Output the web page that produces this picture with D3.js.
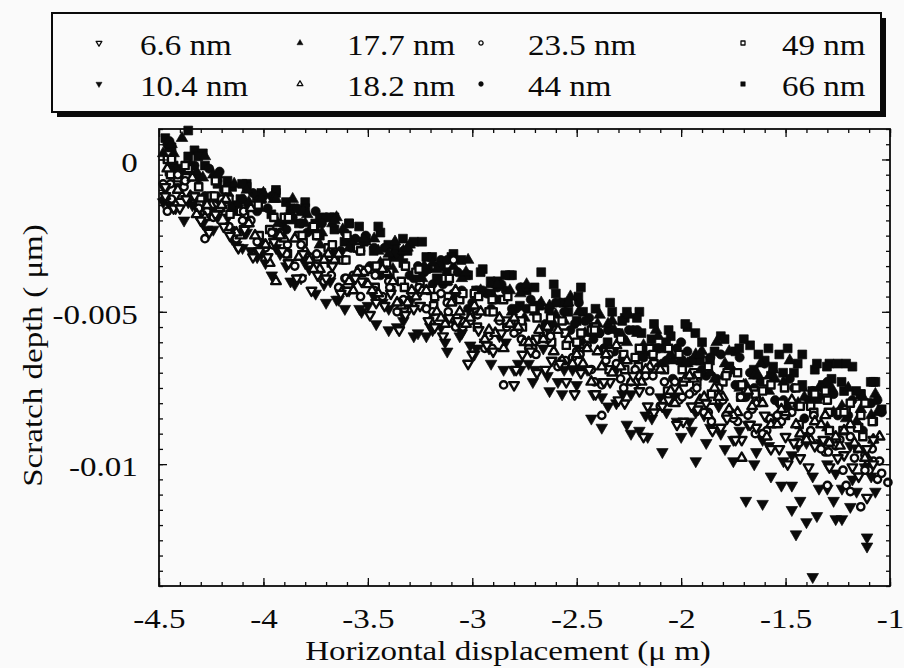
<!DOCTYPE html>
<html>
<head>
<meta charset="utf-8">
<script src="https://cdn.jsdelivr.net/npm/d3@7"></script>
<style>
  body { margin: 0; background: #fafafa; }
  svg { display: block; }
</style>
</head>
<body>
<svg id="chart" width="904" height="668"></svg>
<script>
// legend names, in legend order (column by column)
const seriesNames = ["6.6 nm", "10.4 nm", "17.7 nm", "18.2 nm", "23.5 nm", "44 nm", "49 nm", "66 nm"];
const xTicks = [-4.5, -4, -3.5, -3, -2.5, -2, -1.5, -1];
const yTicks = [0, -0.005, -0.01];

// [horizontal displacement (um), scratch depth (um)]
const d6_6 = [[-4.47,-0.0012],[-4.43,-0.0016],[-4.37,-0.0013],[-4.30,-0.0020],[-4.23,-0.0018],[-4.16,-0.0025],[-4.09,-0.0023],[-4.02,-0.0030],[-3.95,-0.0027],[-3.88,-0.0034],[-3.81,-0.0031],[-3.74,-0.0038],[-3.67,-0.0035],[-3.60,-0.0043],[-3.53,-0.0040],[-3.46,-0.0047],[-3.39,-0.0044],[-3.32,-0.0051],[-3.25,-0.0048],[-3.18,-0.0055],[-3.11,-0.0052],[-3.02,-0.0067],[-2.97,-0.0056],[-2.90,-0.0063],[-2.80,-0.0074],[-2.76,-0.0064],[-2.69,-0.0070],[-2.62,-0.0066],[-2.55,-0.0073],[-2.48,-0.0070],[-2.41,-0.0077],[-2.34,-0.0073],[-2.27,-0.0080],[-2.18,-0.0091],[-2.20,-0.0076],[-2.13,-0.0083],[-2.06,-0.0079],[-1.99,-0.0086],[-1.92,-0.0082],[-1.85,-0.0089],[-1.78,-0.0085],[-1.71,-0.0092],[-1.64,-0.0088],[-1.57,-0.0095],[-1.50,-0.0091],[-1.49,-0.0100],[-1.43,-0.0098],[-1.36,-0.0094],[-1.29,-0.0101],[-1.22,-0.0097],[-1.15,-0.0104],[-1.11,-0.0111],[-1.08,-0.0100],[-1.08,-0.0092],
  [-4.47,-0.0009],[-4.40,-0.0016],[-4.33,-0.0012],[-4.26,-0.0024],[-4.19,-0.0022],[-4.12,-0.0029],[-4.05,-0.0032],[-3.98,-0.0032],[-3.91,-0.0030],[-3.84,-0.0039],[-3.77,-0.0043],[-3.70,-0.0039],[-3.63,-0.0044],[-3.56,-0.0039],[-3.49,-0.0051],[-3.42,-0.0048],[-3.35,-0.0056],[-3.28,-0.0049],[-3.21,-0.0053],[-3.14,-0.0058],[-3.07,-0.0053],[-3.00,-0.0064],[-2.93,-0.0061],[-2.86,-0.0057],[-2.79,-0.0069],[-2.72,-0.0063],[-2.65,-0.0069],[-2.58,-0.0067],[-2.51,-0.0077],[-2.44,-0.0069],[-2.37,-0.0073],[-2.30,-0.0079],[-2.23,-0.0071],[-2.16,-0.0081],[-2.09,-0.0081],[-2.02,-0.0087],[-1.95,-0.0081],[-1.88,-0.0080],[-1.81,-0.0088],[-1.74,-0.0092],[-1.67,-0.0087],[-1.60,-0.0084],[-1.53,-0.0095],[-1.46,-0.0093],[-1.39,-0.0101],[-1.32,-0.0092],[-1.25,-0.0098],[-1.18,-0.0101],[-1.11,-0.0095]];
const d10_4 = [[-4.47,-0.0010],[-4.42,-0.0016],[-4.36,-0.0014],[-4.29,-0.0021],[-4.22,-0.0019],[-4.15,-0.0026],[-4.08,-0.0024],[-4.01,-0.0031],[-3.94,-0.0029],[-3.87,-0.0040],[-3.80,-0.0034],[-3.70,-0.0047],[-3.65,-0.0046],[-3.59,-0.0043],[-3.53,-0.0050],[-3.46,-0.0054],[-3.40,-0.0049],[-3.33,-0.0053],[-3.28,-0.0058],[-3.20,-0.0055],[-3.13,-0.0060],[-3.06,-0.0058],[-2.99,-0.0064],[-2.92,-0.0062],[-2.85,-0.0069],[-2.78,-0.0067],[-2.71,-0.0073],[-2.64,-0.0071],[-2.57,-0.0077],[-2.50,-0.0074],[-2.43,-0.0085],[-2.38,-0.0088],[-2.31,-0.0080],[-2.26,-0.0087],[-2.24,-0.0090],[-2.20,-0.0089],[-2.16,-0.0091],[-2.09,-0.0096],[-2.02,-0.0086],[-1.95,-0.0089],[-1.93,-0.0099],[-1.88,-0.0093],[-1.81,-0.0090],[-1.75,-0.0099],[-1.69,-0.0112],[-1.64,-0.0096],[-1.61,-0.0113],[-1.57,-0.0104],[-1.52,-0.0107],[-1.47,-0.0107],[-1.47,-0.0115],[-1.45,-0.0123],[-1.43,-0.0112],[-1.40,-0.0119],[-1.37,-0.0137],[-1.35,-0.0117],[-1.34,-0.0108],[-1.30,-0.0108],[-1.27,-0.0112],[-1.26,-0.0118],[-1.23,-0.0118],[-1.19,-0.0114],[-1.18,-0.0105],[-1.11,-0.0124],[-1.11,-0.0127],[-1.07,-0.0109],
  [-4.45,-0.0015],[-4.38,-0.0020],[-4.31,-0.0017],[-4.24,-0.0023],[-4.17,-0.0019],[-4.10,-0.0029],[-4.03,-0.0032],[-3.96,-0.0038],[-3.89,-0.0035],[-3.82,-0.0039],[-3.75,-0.0044],[-3.68,-0.0040],[-3.61,-0.0049],[-3.54,-0.0049],[-3.47,-0.0045],[-3.40,-0.0056],[-3.33,-0.0051],[-3.26,-0.0057],[-3.19,-0.0056],[-3.12,-0.0063],[-3.05,-0.0057],[-2.98,-0.0062],[-2.91,-0.0067],[-2.84,-0.0060],[-2.77,-0.0069],[-2.70,-0.0069],[-2.63,-0.0076],[-2.56,-0.0069],[-2.49,-0.0069],[-2.42,-0.0077],[-2.35,-0.0081],[-2.28,-0.0077],[-2.21,-0.0073],[-2.14,-0.0085],[-2.07,-0.0083],[-2.00,-0.0091],[-1.93,-0.0083],[-1.86,-0.0088],[-1.79,-0.0095],[-1.72,-0.0089],[-1.65,-0.0100],[-1.58,-0.0094],[-1.51,-0.0099],[-1.44,-0.0094],[-1.37,-0.0104],[-1.30,-0.0100],[-1.23,-0.0108],[-1.16,-0.0109],[-1.09,-0.0104],
  [-4.48,-0.0014],[-4.41,-0.0009],[-4.34,-0.0015],[-4.27,-0.0023],[-4.20,-0.0016],[-4.13,-0.0028],[-4.06,-0.0030],[-3.99,-0.0034],[-3.92,-0.0031],[-3.85,-0.0041],[-3.78,-0.0036],[-3.71,-0.0041],[-3.64,-0.0046],[-3.57,-0.0040],[-3.50,-0.0048],[-3.43,-0.0047],[-3.36,-0.0055],[-3.29,-0.0046],[-3.22,-0.0058],[-3.15,-0.0055],[-3.08,-0.0054],[-3.01,-0.0061],[-2.94,-0.0060],[-2.87,-0.0058],[-2.80,-0.0069],[-2.73,-0.0067],[-2.66,-0.0062],[-2.59,-0.0073],[-2.52,-0.0069],[-2.45,-0.0069],[-2.38,-0.0078],[-2.31,-0.0069],[-2.24,-0.0077],[-2.17,-0.0084],[-2.10,-0.0078],[-2.03,-0.0078],[-1.96,-0.0086],[-1.89,-0.0084],[-1.82,-0.0081],[-1.75,-0.0092],[-1.68,-0.0087],[-1.61,-0.0092],[-1.54,-0.0085],[-1.47,-0.0097],[-1.40,-0.0093],[-1.33,-0.0093],[-1.26,-0.0103],[-1.19,-0.0094],[-1.12,-0.0101]];
const d17_7 = [[-4.48,0.0002],[-4.44,0.0005],[-4.39,0.0007],[-4.32,-0.0004],[-4.24,-0.0005],[-4.17,-0.0011],[-4.08,-0.0010],[-4.02,-0.0016],[-3.95,-0.0013],[-3.88,-0.0020],[-3.81,-0.0017],[-3.74,-0.0024],[-3.67,-0.0021],[-3.62,-0.0023],[-3.54,-0.0029],[-3.47,-0.0026],[-3.40,-0.0031],[-3.33,-0.0030],[-3.26,-0.0036],[-3.19,-0.0034],[-3.12,-0.0040],[-3.05,-0.0039],[-2.98,-0.0044],[-2.91,-0.0041],[-2.84,-0.0045],[-2.77,-0.0044],[-2.70,-0.0050],[-2.63,-0.0048],[-2.56,-0.0053],[-2.49,-0.0050],[-2.42,-0.0057],[-2.35,-0.0054],[-2.28,-0.0058],[-2.21,-0.0057],[-2.14,-0.0063],[-2.07,-0.0061],[-2.00,-0.0066],[-1.93,-0.0064],[-1.86,-0.0070],[-1.79,-0.0067],[-1.72,-0.0075],[-1.65,-0.0071],[-1.58,-0.0076],[-1.51,-0.0073],[-1.44,-0.0080],[-1.37,-0.0078],[-1.30,-0.0088],[-1.23,-0.0081],[-1.16,-0.0086],[-1.09,-0.0084],
  [-4.42,-0.0003],[-4.35,-0.0002],[-4.28,0.0001],[-4.21,-0.0013],[-4.14,-0.0008],[-4.07,-0.0014],[-4.00,-0.0011],[-3.93,-0.0021],[-3.86,-0.0013],[-3.79,-0.0018],[-3.72,-0.0024],[-3.65,-0.0019],[-3.58,-0.0027],[-3.51,-0.0027],[-3.44,-0.0034],[-3.37,-0.0027],[-3.30,-0.0028],[-3.23,-0.0035],[-3.16,-0.0040],[-3.09,-0.0035],[-3.02,-0.0033],[-2.95,-0.0044],[-2.88,-0.0041],[-2.81,-0.0050],[-2.74,-0.0041],[-2.67,-0.0047],[-2.60,-0.0051],[-2.53,-0.0045],[-2.46,-0.0057],[-2.39,-0.0051],[-2.32,-0.0056],[-2.25,-0.0051],[-2.18,-0.0061],[-2.11,-0.0058],[-2.04,-0.0066],[-1.97,-0.0067],[-1.90,-0.0063],[-1.83,-0.0060],[-1.76,-0.0069],[-1.69,-0.0074],[-1.62,-0.0067],[-1.55,-0.0072],[-1.48,-0.0066],[-1.41,-0.0078],[-1.34,-0.0075],[-1.27,-0.0083],[-1.20,-0.0075],[-1.13,-0.0078],[-1.06,-0.0083],
  [-4.43,0.0002],[-4.36,-0.0006],[-4.29,-0.0006],[-4.22,-0.0005],[-4.15,-0.0016],[-4.08,-0.0021],[-4.01,-0.0013],[-3.94,-0.0013],[-3.87,-0.0020],[-3.80,-0.0021],[-3.73,-0.0028],[-3.66,-0.0020],[-3.59,-0.0029],[-3.52,-0.0026],[-3.45,-0.0030],[-3.38,-0.0036],[-3.31,-0.0029],[-3.24,-0.0039],[-3.17,-0.0036],[-3.10,-0.0045],[-3.03,-0.0037],[-2.96,-0.0043],[-2.89,-0.0046],[-2.82,-0.0043],[-2.75,-0.0052],[-2.68,-0.0048],[-2.61,-0.0054],[-2.54,-0.0047],[-2.47,-0.0060],[-2.40,-0.0054],[-2.33,-0.0053],[-2.26,-0.0060],[-2.19,-0.0065],[-2.12,-0.0056],[-2.05,-0.0064],[-1.98,-0.0067],[-1.91,-0.0064],[-1.84,-0.0072],[-1.77,-0.0063],[-1.70,-0.0074],[-1.63,-0.0071],[-1.56,-0.0069],[-1.49,-0.0081],[-1.42,-0.0075],[-1.35,-0.0079],[-1.28,-0.0075],[-1.21,-0.0085],[-1.14,-0.0082],[-1.07,-0.0077]];
const d18_2 = [[-4.47,-0.0012],[-4.42,-0.0015],[-4.35,-0.0012],[-4.28,-0.0019],[-4.21,-0.0016],[-4.14,-0.0024],[-4.07,-0.0021],[-4.00,-0.0028],[-3.94,-0.0040],[-3.93,-0.0025],[-3.80,-0.0030],[-3.73,-0.0036],[-3.66,-0.0033],[-3.59,-0.0040],[-3.52,-0.0037],[-3.45,-0.0044],[-3.38,-0.0040],[-3.31,-0.0047],[-3.24,-0.0043],[-3.17,-0.0050],[-3.10,-0.0047],[-3.03,-0.0054],[-2.96,-0.0050],[-2.89,-0.0057],[-2.82,-0.0054],[-2.75,-0.0060],[-2.68,-0.0056],[-2.61,-0.0063],[-2.54,-0.0059],[-2.47,-0.0067],[-2.40,-0.0063],[-2.33,-0.0070],[-2.26,-0.0066],[-2.19,-0.0073],[-2.12,-0.0069],[-2.05,-0.0076],[-1.98,-0.0072],[-1.91,-0.0079],[-1.84,-0.0075],[-1.77,-0.0082],[-1.71,-0.0098],[-1.64,-0.0080],[-1.57,-0.0087],[-1.50,-0.0083],[-1.43,-0.0090],[-1.36,-0.0086],[-1.29,-0.0093],[-1.22,-0.0089],[-1.15,-0.0095],[-1.08,-0.0092],
  [-4.46,-0.0003],[-4.39,-0.0012],[-4.32,-0.0018],[-4.25,-0.0015],[-4.18,-0.0013],[-4.11,-0.0025],[-4.04,-0.0025],[-3.97,-0.0034],[-3.90,-0.0026],[-3.83,-0.0032],[-3.76,-0.0036],[-3.69,-0.0031],[-3.62,-0.0043],[-3.55,-0.0037],[-3.48,-0.0043],[-3.41,-0.0037],[-3.34,-0.0048],[-3.27,-0.0045],[-3.20,-0.0053],[-3.13,-0.0054],[-3.06,-0.0050],[-2.99,-0.0048],[-2.92,-0.0056],[-2.85,-0.0062],[-2.78,-0.0055],[-2.71,-0.0060],[-2.64,-0.0055],[-2.57,-0.0066],[-2.50,-0.0064],[-2.43,-0.0073],[-2.36,-0.0064],[-2.29,-0.0068],[-2.22,-0.0073],[-2.15,-0.0068],[-2.08,-0.0079],[-2.01,-0.0076],[-1.94,-0.0072],[-1.87,-0.0084],[-1.80,-0.0078],[-1.73,-0.0083],[-1.66,-0.0081],[-1.59,-0.0091],[-1.52,-0.0082],[-1.45,-0.0087],[-1.38,-0.0092],[-1.31,-0.0084],[-1.24,-0.0094],[-1.17,-0.0093],[-1.10,-0.0099],
  [-4.41,-0.0010],[-4.34,-0.0006],[-4.27,-0.0015],[-4.20,-0.0015],[-4.13,-0.0024],[-4.06,-0.0016],[-3.99,-0.0028],[-3.92,-0.0025],[-3.85,-0.0026],[-3.78,-0.0033],[-3.71,-0.0033],[-3.64,-0.0031],[-3.57,-0.0043],[-3.50,-0.0041],[-3.43,-0.0036],[-3.36,-0.0047],[-3.29,-0.0043],[-3.22,-0.0043],[-3.15,-0.0052],[-3.08,-0.0043],[-3.01,-0.0052],[-2.94,-0.0059],[-2.87,-0.0052],[-2.80,-0.0052],[-2.73,-0.0060],[-2.66,-0.0059],[-2.59,-0.0056],[-2.52,-0.0067],[-2.45,-0.0062],[-2.38,-0.0068],[-2.31,-0.0061],[-2.24,-0.0073],[-2.17,-0.0069],[-2.10,-0.0069],[-2.03,-0.0080],[-1.96,-0.0071],[-1.89,-0.0078],[-1.82,-0.0078],[-1.75,-0.0084],[-1.68,-0.0076],[-1.61,-0.0080],[-1.54,-0.0087],[-1.47,-0.0079],[-1.40,-0.0092],[-1.33,-0.0087],[-1.26,-0.0091],[-1.19,-0.0087],[-1.12,-0.0098],[-1.05,-0.0091]];
const d23_5 = [[-4.48,-0.0008],[-4.46,-0.0017],[-4.44,-0.0013],[-4.38,-0.0009],[-4.31,-0.0016],[-4.28,-0.0026],[-4.24,-0.0019],[-4.17,-0.0022],[-4.10,-0.0020],[-4.03,-0.0027],[-3.96,-0.0024],[-3.89,-0.0031],[-3.82,-0.0028],[-3.75,-0.0035],[-3.68,-0.0032],[-3.61,-0.0039],[-3.54,-0.0036],[-3.47,-0.0043],[-3.40,-0.0040],[-3.33,-0.0046],[-3.26,-0.0044],[-3.19,-0.0050],[-3.12,-0.0047],[-3.09,-0.0033],[-3.05,-0.0053],[-2.98,-0.0050],[-2.92,-0.0058],[-2.85,-0.0074],[-2.78,-0.0056],[-2.71,-0.0062],[-2.64,-0.0059],[-2.57,-0.0066],[-2.50,-0.0063],[-2.43,-0.0069],[-2.38,-0.0084],[-2.36,-0.0066],[-2.29,-0.0072],[-2.22,-0.0069],[-2.15,-0.0076],[-2.08,-0.0073],[-2.01,-0.0079],[-1.94,-0.0076],[-1.87,-0.0083],[-1.80,-0.0079],[-1.73,-0.0086],[-1.66,-0.0082],[-1.59,-0.0089],[-1.52,-0.0086],[-1.45,-0.0093],[-1.38,-0.0089],[-1.31,-0.0096],[-1.30,-0.0107],[-1.29,-0.0093],[-1.24,-0.0092],[-1.21,-0.0107],[-1.19,-0.0109],[-1.17,-0.0098],[-1.14,-0.0114],[-1.12,-0.0097],[-1.10,-0.0102],[-1.08,-0.0099],[-1.06,-0.0105],[-1.04,-0.0103],[-1.01,-0.0106],
  [-4.41,-0.0005],[-4.34,-0.0012],[-4.27,-0.0017],[-4.20,-0.0013],[-4.13,-0.0026],[-4.06,-0.0020],[-3.99,-0.0029],[-3.92,-0.0024],[-3.85,-0.0035],[-3.78,-0.0032],[-3.71,-0.0040],[-3.64,-0.0042],[-3.57,-0.0038],[-3.50,-0.0036],[-3.43,-0.0045],[-3.36,-0.0050],[-3.29,-0.0044],[-3.22,-0.0049],[-3.15,-0.0044],[-3.08,-0.0055],[-3.01,-0.0053],[-2.94,-0.0062],[-2.87,-0.0053],[-2.80,-0.0057],[-2.73,-0.0062],[-2.66,-0.0057],[-2.59,-0.0068],[-2.52,-0.0065],[-2.45,-0.0061],[-2.38,-0.0074],[-2.31,-0.0067],[-2.24,-0.0073],[-2.17,-0.0071],[-2.10,-0.0081],[-2.03,-0.0073],[-1.96,-0.0077],[-1.89,-0.0083],[-1.82,-0.0075],[-1.75,-0.0085],[-1.68,-0.0084],[-1.61,-0.0090],[-1.54,-0.0084],[-1.47,-0.0083],[-1.40,-0.0091],[-1.33,-0.0095],[-1.26,-0.0094],[-1.19,-0.0091],[-1.12,-0.0102],[-1.05,-0.0099],
  [-4.445,-0.0008],[-4.375,-0.0007],[-4.305,-0.0019],[-4.235,-0.0015],[-4.165,-0.0022],[-4.095,-0.0017],[-4.025,-0.0030],[-3.955,-0.0028],[-3.885,-0.0028],[-3.815,-0.0039],[-3.745,-0.0031],[-3.675,-0.0038],[-3.605,-0.0039],[-3.535,-0.0045],[-3.465,-0.0038],[-3.395,-0.0042],[-3.325,-0.0049],[-3.255,-0.0042],[-3.185,-0.0055],[-3.115,-0.0050],[-3.045,-0.0055],[-2.975,-0.0051],[-2.905,-0.0062],[-2.835,-0.0055],[-2.765,-0.0059],[-2.695,-0.0064],[-2.625,-0.0058],[-2.555,-0.0066],[-2.485,-0.0064],[-2.415,-0.0073],[-2.345,-0.0064],[-2.275,-0.0075],[-2.205,-0.0071],[-2.135,-0.0071],[-2.065,-0.0078],[-1.995,-0.0078],[-1.925,-0.0075],[-1.855,-0.0086],[-1.785,-0.0084],[-1.715,-0.0078],[-1.645,-0.0090],[-1.575,-0.0085],[-1.505,-0.0084],[-1.435,-0.0093],[-1.365,-0.0084],[-1.295,-0.0096],[-1.225,-0.0102],[-1.155,-0.0095],[-1.085,-0.0095]];
const d44 = [[-4.46,0.0005],[-4.40,-0.0004],[-4.33,-0.0002],[-4.26,-0.0003],[-4.19,-0.0010],[-4.12,-0.0015],[-4.05,-0.0011],[-3.98,-0.0016],[-3.91,-0.0021],[-3.84,-0.0016],[-3.77,-0.0023],[-3.70,-0.0019],[-3.63,-0.0030],[-3.56,-0.0026],[-3.49,-0.0035],[-3.42,-0.0029],[-3.35,-0.0032],[-3.28,-0.0039],[-3.21,-0.0036],[-3.15,-0.0033],[-3.14,-0.0041],[-3.07,-0.0037],[-3.00,-0.0047],[-2.93,-0.0044],[-2.86,-0.0041],[-2.79,-0.0049],[-2.72,-0.0046],[-2.65,-0.0054],[-2.58,-0.0047],[-2.51,-0.0054],[-2.44,-0.0052],[-2.37,-0.0062],[-2.30,-0.0057],[-2.23,-0.0056],[-2.16,-0.0063],[-2.09,-0.0067],[-2.02,-0.0062],[-1.95,-0.0066],[-1.88,-0.0071],[-1.81,-0.0064],[-1.74,-0.0074],[-1.67,-0.0070],[-1.60,-0.0067],[-1.53,-0.0080],[-1.46,-0.0075],[-1.39,-0.0079],[-1.32,-0.0075],[-1.25,-0.0084],[-1.18,-0.0079],[-1.04,-0.0083],
  [-4.45,0.0006],[-4.38,-0.0007],[-4.31,-0.0006],[-4.24,-0.0016],[-4.17,-0.0009],[-4.10,-0.0013],[-4.03,-0.0017],[-3.96,-0.0012],[-3.89,-0.0023],[-3.82,-0.0021],[-3.75,-0.0017],[-3.68,-0.0030],[-3.61,-0.0024],[-3.54,-0.0030],[-3.47,-0.0029],[-3.40,-0.0038],[-3.33,-0.0030],[-3.26,-0.0035],[-3.19,-0.0041],[-3.12,-0.0033],[-3.05,-0.0043],[-2.98,-0.0043],[-2.91,-0.0049],[-2.84,-0.0043],[-2.77,-0.0042],[-2.70,-0.0050],[-2.63,-0.0055],[-2.56,-0.0050],[-2.49,-0.0047],[-2.42,-0.0059],[-2.35,-0.0056],[-2.28,-0.0065],[-2.21,-0.0056],[-2.14,-0.0062],[-2.07,-0.0066],[-2.00,-0.0060],[-1.93,-0.0072],[-1.86,-0.0065],[-1.79,-0.0071],[-1.72,-0.0065],[-1.65,-0.0075],[-1.58,-0.0072],[-1.51,-0.0079],[-1.44,-0.0081],[-1.37,-0.0076],[-1.30,-0.0073],[-1.23,-0.0082],[-1.16,-0.0087],[-1.09,-0.0080],
  [-4.42,-0.0004],[-4.35,-0.0002],[-4.28,-0.0012],[-4.21,-0.0004],[-4.14,-0.0017],[-4.07,-0.0015],[-4.00,-0.0012],[-3.93,-0.0025],[-3.86,-0.0019],[-3.79,-0.0024],[-3.72,-0.0021],[-3.65,-0.0031],[-3.58,-0.0029],[-3.51,-0.0025],[-3.44,-0.0038],[-3.37,-0.0031],[-3.30,-0.0038],[-3.23,-0.0037],[-3.16,-0.0035],[-3.09,-0.0044],[-3.02,-0.0049],[-2.95,-0.0043],[-2.88,-0.0042],[-2.81,-0.0049],[-2.74,-0.0049],[-2.67,-0.0056],[-2.60,-0.0047],[-2.53,-0.0056],[-2.46,-0.0053],[-2.39,-0.0057],[-2.32,-0.0063],[-2.25,-0.0056],[-2.18,-0.0065],[-2.11,-0.0062],[-2.04,-0.0072],[-1.97,-0.0063],[-1.90,-0.0069],[-1.83,-0.0072],[-1.76,-0.0069],[-1.69,-0.0078],[-1.62,-0.0073],[-1.55,-0.0079],[-1.48,-0.0072],[-1.41,-0.0085],[-1.34,-0.0078],[-1.27,-0.0077],[-1.20,-0.0084],[-1.13,-0.0089],[-1.06,-0.0079]];
const d49 = [[-4.46,0.0000],[-4.45,-0.0004],[-4.41,-0.0006],[-4.36,-0.0003],[-4.31,-0.0009],[-4.25,-0.0012],[-4.18,-0.0010],[-4.11,-0.0017],[-4.04,-0.0015],[-3.97,-0.0023],[-3.90,-0.0019],[-3.83,-0.0025],[-3.76,-0.0022],[-3.69,-0.0029],[-3.62,-0.0033],[-3.55,-0.0029],[-3.48,-0.0036],[-3.41,-0.0034],[-3.34,-0.0040],[-3.27,-0.0037],[-3.20,-0.0043],[-3.13,-0.0039],[-3.06,-0.0046],[-2.99,-0.0044],[-2.92,-0.0050],[-2.85,-0.0046],[-2.78,-0.0053],[-2.71,-0.0049],[-2.64,-0.0055],[-2.57,-0.0053],[-2.50,-0.0060],[-2.43,-0.0056],[-2.36,-0.0063],[-2.29,-0.0059],[-2.22,-0.0065],[-2.15,-0.0062],[-2.08,-0.0069],[-2.01,-0.0064],[-1.94,-0.0070],[-1.87,-0.0068],[-1.80,-0.0073],[-1.73,-0.0070],[-1.69,-0.0076],[-1.65,-0.0076],[-1.61,-0.0076],[-1.59,-0.0073],[-1.52,-0.0080],[-1.45,-0.0075],[-1.38,-0.0081],[-1.31,-0.0076],[-1.30,-0.0079],[-1.24,-0.0083],[-1.21,-0.0082],[-1.19,-0.0080],[-1.14,-0.0084],[-1.13,-0.0091],[-1.12,-0.0080],
  [-4.44,0.0000],[-4.37,-0.0006],[-4.30,-0.0013],[-4.23,-0.0007],[-4.16,-0.0018],[-4.09,-0.0018],[-4.02,-0.0025],[-3.95,-0.0019],[-3.88,-0.0019],[-3.81,-0.0027],[-3.74,-0.0032],[-3.67,-0.0028],[-3.60,-0.0025],[-3.53,-0.0037],[-3.46,-0.0035],[-3.39,-0.0043],[-3.32,-0.0035],[-3.25,-0.0041],[-3.18,-0.0045],[-3.11,-0.0039],[-3.04,-0.0051],[-2.97,-0.0045],[-2.90,-0.0050],[-2.83,-0.0045],[-2.76,-0.0055],[-2.69,-0.0052],[-2.62,-0.0060],[-2.55,-0.0061],[-2.48,-0.0057],[-2.41,-0.0055],[-2.34,-0.0063],[-2.27,-0.0069],[-2.20,-0.0062],[-2.13,-0.0067],[-2.06,-0.0062],[-1.99,-0.0073],[-1.92,-0.0071],[-1.85,-0.0079],[-1.78,-0.0070],[-1.71,-0.0074],[-1.64,-0.0079],[-1.57,-0.0074],[-1.50,-0.0084],[-1.43,-0.0081],[-1.36,-0.0077],[-1.29,-0.0089],[-1.22,-0.0083],[-1.15,-0.0088],[-1.08,-0.0086],
  [-4.445,-0.0005],[-4.375,-0.0002],[-4.305,-0.0015],[-4.235,-0.0012],[-4.165,-0.0013],[-4.095,-0.0023],[-4.025,-0.0015],[-3.955,-0.0024],[-3.885,-0.0031],[-3.815,-0.0025],[-3.745,-0.0025],[-3.675,-0.0034],[-3.605,-0.0033],[-3.535,-0.0030],[-3.465,-0.0042],[-3.395,-0.0037],[-3.325,-0.0042],[-3.255,-0.0036],[-3.185,-0.0048],[-3.115,-0.0045],[-3.045,-0.0044],[-2.975,-0.0055],[-2.905,-0.0046],[-2.835,-0.0053],[-2.765,-0.0053],[-2.695,-0.0059],[-2.625,-0.0052],[-2.555,-0.0057],[-2.485,-0.0063],[-2.415,-0.0056],[-2.345,-0.0069],[-2.275,-0.0064],[-2.205,-0.0068],[-2.135,-0.0064],[-2.065,-0.0076],[-1.995,-0.0069],[-1.925,-0.0073],[-1.855,-0.0077],[-1.785,-0.0071],[-1.715,-0.0078],[-1.645,-0.0077],[-1.575,-0.0085],[-1.505,-0.0075],[-1.435,-0.0087],[-1.365,-0.0083],[-1.295,-0.0083],[-1.225,-0.0089],[-1.155,-0.0088],[-1.085,-0.0086]];
const d66 = [[-4.47,0.0007],[-4.44,0.0004],[-4.40,-0.0003],[-4.36,0.00095],[-4.33,0.0003],[-4.28,-0.0002],[-4.22,-0.0006],[-4.15,-0.0009],[-4.11,-0.0013],[-4.08,-0.0008],[-4.01,-0.0013],[-3.94,-0.0011],[-3.87,-0.0016],[-3.83,-0.0021],[-3.80,-0.0014],[-3.73,-0.0019],[-3.66,-0.0023],[-3.59,-0.0021],[-3.55,-0.0029],[-3.51,-0.0026],[-3.44,-0.0024],[-3.37,-0.0029],[-3.33,-0.0034],[-3.28,-0.0027],[-3.22,-0.0032],[-3.15,-0.0035],[-3.12,-0.0040],[-3.09,-0.0031],[-3.02,-0.0038],[-2.95,-0.0036],[-2.91,-0.0044],[-2.88,-0.0040],[-2.81,-0.0038],[-2.74,-0.0043],[-2.70,-0.0048],[-2.67,-0.0037],[-2.60,-0.0044],[-2.54,-0.0047],[-2.50,-0.0053],[-2.48,-0.0042],[-2.41,-0.0049],[-2.34,-0.0047],[-2.30,-0.0057],[-2.27,-0.0052],[-2.20,-0.0050],[-2.13,-0.0054],[-2.10,-0.0062],[-2.06,-0.0056],[-1.97,-0.0055],[-1.93,-0.0066],[-1.90,-0.0060],[-1.81,-0.0058],[-1.77,-0.0068],[-1.74,-0.0063],[-1.67,-0.0061],[-1.60,-0.0066],[-1.57,-0.0071],[-1.53,-0.0064],[-1.46,-0.0070],[-1.42,-0.0064],[-1.36,-0.0069],[-1.32,-0.0074],[-1.29,-0.0067],[-1.25,-0.0067],[-1.22,-0.0076],[-1.18,-0.0068],[-1.14,-0.0077],[-1.11,-0.0080],[-1.08,-0.0073],
  [-4.43,-0.0002],[-4.36,0.0001],[-4.29,0.0002],[-4.22,-0.0008],[-4.15,-0.0015],[-4.08,-0.0009],[-4.01,-0.0011],[-3.94,-0.0010],[-3.87,-0.0018],[-3.80,-0.0016],[-3.73,-0.0025],[-3.66,-0.0019],[-3.59,-0.0021],[-3.52,-0.0027],[-3.45,-0.0022],[-3.38,-0.0032],[-3.31,-0.0030],[-3.24,-0.0027],[-3.17,-0.0039],[-3.10,-0.0032],[-3.03,-0.0038],[-2.96,-0.0037],[-2.89,-0.0046],[-2.82,-0.0038],[-2.75,-0.0042],[-2.68,-0.0048],[-2.61,-0.0041],[-2.54,-0.0050],[-2.47,-0.0050],[-2.40,-0.0057],[-2.33,-0.0050],[-2.26,-0.0050],[-2.19,-0.0057],[-2.12,-0.0062],[-2.05,-0.0058],[-1.98,-0.0054],[-1.91,-0.0066],[-1.84,-0.0063],[-1.77,-0.0068],[-1.70,-0.0059],[-1.63,-0.0064],[-1.56,-0.0068],[-1.49,-0.0062],[-1.42,-0.0074],[-1.35,-0.0067],[-1.28,-0.0072],[-1.21,-0.0067],[-1.14,-0.0077],[-1.07,-0.0073],
  [-4.452,0.0004],[-4.382,-0.0004],[-4.312,0.0001],[-4.242,-0.0013],[-4.172,-0.0007],[-4.102,-0.0008],[-4.032,-0.0012],[-3.962,-0.0018],[-3.892,-0.0014],[-3.822,-0.0017],[-3.752,-0.0021],[-3.682,-0.0019],[-3.612,-0.0027],[-3.542,-0.0022],[-3.472,-0.0030],[-3.402,-0.0028],[-3.332,-0.0026],[-3.262,-0.0038],[-3.192,-0.0032],[-3.122,-0.0037],[-3.052,-0.0033],[-2.982,-0.0043],[-2.912,-0.0040],[-2.842,-0.0038],[-2.772,-0.0048],[-2.702,-0.0042],[-2.632,-0.0049],[-2.562,-0.0047],[-2.492,-0.0045],[-2.422,-0.0055],[-2.352,-0.0060],[-2.282,-0.0053],[-2.212,-0.0052],[-2.142,-0.0059],[-2.072,-0.0060],[-2.002,-0.0066],[-1.932,-0.0057],[-1.862,-0.0066],[-1.792,-0.0059],[-1.722,-0.0062],[-1.652,-0.0069],[-1.582,-0.0062],[-1.512,-0.0070],[-1.442,-0.0067],[-1.372,-0.0076],[-1.302,-0.0068],[-1.232,-0.0073],[-1.162,-0.0076],[-1.092,-0.0073],[-1.04,-0.0082]];

const seriesData = [d6_6, d10_4, d17_7, d18_2, d23_5, d44, d49, d66];
// marker for each series (legend order); open ones have a heavy outline, as in the scan
const markers = [
  { type: d3.symbolTriangle, filled: false, down: true,  size: 40, key: 14 },
  { type: d3.symbolTriangle, filled: true,  down: true,  size: 58, key: 16 },
  { type: d3.symbolTriangle, filled: true,  down: false, size: 58, key: 16 },
  { type: d3.symbolTriangle, filled: false, down: false, size: 40, key: 14 },
  { type: d3.symbolCircle,   filled: false, down: false, size: 42, key: 14 },
  { type: d3.symbolCircle,   filled: true,  down: false, size: 66, key: 18 },
  { type: d3.symbolSquare,   filled: false, down: false, size: 52, key: 16 },
  { type: d3.symbolSquare,   filled: true,  down: false, size: 78, key: 20 },
];
// filled series first, open ones on top of them
const drawOrder = [7, 5, 2, 1, 6, 4, 3, 0];

const ink = "#0a0a0a", paper = "#fafafa";
const font = "Liberation Serif, Times New Roman, serif";
const stretch = 1.18;   // the scanned lettering is wider than Times
const svg = d3.select("#chart");
svg.append("rect").attr("width", 904).attr("height", 668).attr("fill", paper);

const plot = { left: 159, right: 890, top: 129, bottom: 586 };
const x = d3.scaleLinear().domain([-4.5, -1]).range([plot.left, plot.right]);
const y = d3.scaleLinear().domain([-0.014, 0.001]).range([plot.bottom, plot.top]);

// points
drawOrder.forEach(i => {
  const m = markers[i];
  const sym = d3.symbol().type(m.type).size(m.size);
  svg.append("g")
    .attr("class", "series")
    .selectAll("path")
    .data(seriesData[i])
    .join("path")
    .attr("d", sym)
    .attr("transform", d => `translate(${x(d[0])},${y(d[1])})` + (m.down ? " rotate(180)" : ""))
    .attr("fill", m.filled ? ink : paper)
    .attr("stroke", ink)
    .attr("stroke-linejoin", "round")
    .attr("stroke-width", m.filled ? 0.7 : 2.4);
});

// axes: ticks point inward, on all four sides
function styleAxis(g) {
  g.attr("color", ink).attr("font-family", font).attr("font-size", 28);
  g.select(".domain").remove();
  g.selectAll(".tick line").attr("stroke-width", 1.3);
  g.selectAll(".tick text").attr("transform", `scale(${stretch},1)`);
}
const noLabel = () => "";

svg.append("g").attr("transform", `translate(0,${plot.bottom})`)
  .call(d3.axisBottom(x).tickValues(x.ticks(35)).tickSize(-4).tickFormat(noLabel)).call(styleAxis);
svg.append("g").attr("transform", `translate(0,${plot.bottom})`)
  .call(d3.axisBottom(x).tickValues(xTicks).tickSize(-8).tickPadding(22).tickFormat(d => String(d))).call(styleAxis);
svg.append("g").attr("transform", `translate(0,${plot.top})`)
  .call(d3.axisTop(x).tickValues(x.ticks(35)).tickSize(-4).tickFormat(noLabel)).call(styleAxis);
svg.append("g").attr("transform", `translate(0,${plot.top})`)
  .call(d3.axisTop(x).tickValues(xTicks).tickSize(-8).tickFormat(noLabel)).call(styleAxis);

svg.append("g").attr("transform", `translate(${plot.left},0)`)
  .call(d3.axisLeft(y).tickValues(y.ticks(30)).tickSize(-4).tickFormat(noLabel)).call(styleAxis);
const yAxis = svg.append("g").attr("transform", `translate(${plot.left},0)`)
  .call(d3.axisLeft(y).tickValues(yTicks).tickSize(-8).tickPadding(18).tickFormat(d => String(d))).call(styleAxis);
yAxis.selectAll("text").attr("dy", "0.42em");
svg.append("g").attr("transform", `translate(${plot.right},0)`)
  .call(d3.axisRight(y).tickValues(y.ticks(30)).tickSize(-4).tickFormat(noLabel)).call(styleAxis);
svg.append("g").attr("transform", `translate(${plot.right},0)`)
  .call(d3.axisRight(y).tickValues(yTicks).tickSize(-8).tickFormat(noLabel)).call(styleAxis);

// frame
svg.append("rect")
  .attr("x", plot.left).attr("y", plot.top)
  .attr("width", plot.right - plot.left).attr("height", plot.bottom - plot.top)
  .attr("fill", "none").attr("stroke", ink).attr("stroke-width", 1.8);

// axis titles
svg.append("text")
  .attr("transform", `translate(508,660) scale(${stretch},1)`)
  .attr("text-anchor", "middle")
  .attr("font-family", font).attr("font-size", 28).attr("fill", ink)
  .text("Horizontal displacement (\u03bc m)");
svg.append("text")
  .attr("transform", `translate(42,${(plot.top + plot.bottom) / 2 - 2}) rotate(-90) scale(${stretch},1)`)
  .attr("text-anchor", "middle")
  .attr("font-family", font).attr("font-size", 28).attr("fill", ink)
  .text("Scratch depth ( \u03bcm)");

// legend box with drop shadow on right and bottom
const legend = svg.append("g").attr("class", "legend");
legend.append("rect").attr("x", 57).attr("y", 18).attr("width", 829).attr("height", 99).attr("fill", ink);
legend.append("rect").attr("x", 52).attr("y", 13).attr("width", 829).attr("height", 99)
  .attr("fill", paper).attr("stroke", ink).attr("stroke-width", 2);

const legendMarkX = [99, 300, 481, 743];
const legendTextX = [140, 347, 528, 782];
const legendRowY = [43, 84];
seriesNames.forEach((name, i) => {
  const col = Math.floor(i / 2), row = i % 2;
  const m = markers[i];
  legend.append("path")
    .attr("d", d3.symbol().type(m.type).size(m.key)())
    .attr("transform", `translate(${legendMarkX[col]},${legendRowY[row]})` + (m.down ? " rotate(180)" : ""))
    .attr("fill", m.filled ? ink : paper)
    .attr("stroke", ink)
    .attr("stroke-linejoin", "round")
    .attr("stroke-width", m.filled ? 0.5 : 1.3);
  legend.append("text")
    .attr("transform", `translate(${legendTextX[col]},${legendRowY[row] + 12}) scale(1.1,1)`)
    .attr("font-family", font).attr("font-size", 30).attr("fill", ink)
    .text(name);
});
</script>
</body>
</html>
